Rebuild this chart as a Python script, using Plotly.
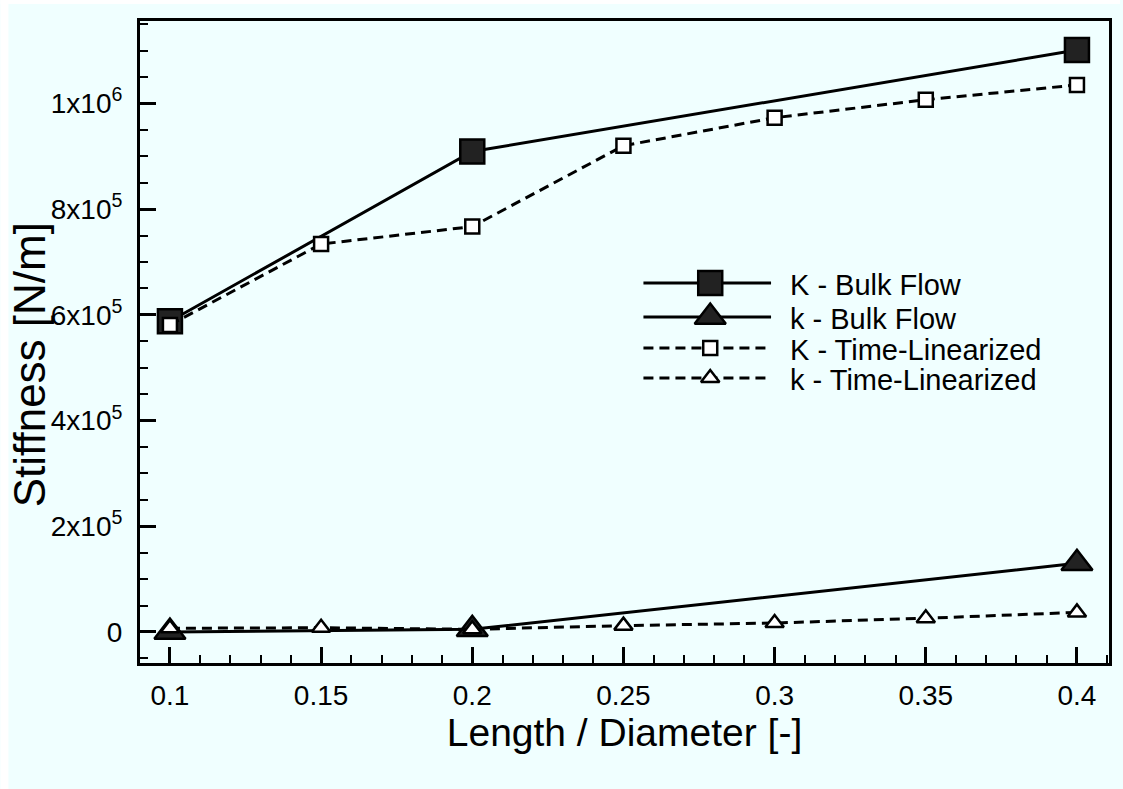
import plotly.graph_objects as go

# ---------------- data ----------------
x_bulk = [0.1, 0.2, 0.4]
K_bulk = [588e3, 909e3, 1101e3]
k_bulk = [0.0, 5e3, 130e3]

x_tl = [0.1, 0.15, 0.2, 0.25, 0.3, 0.35, 0.4]
K_tl = [581e3, 734e3, 767e3, 920e3, 973e3, 1007e3, 1035e3]
k_tl = [7e3, 8e3, 5e3, 12e3, 17e3, 26e3, 37e3]

x_tickvals = [0.1, 0.15, 0.2, 0.25, 0.3, 0.35, 0.4]
x_ticktext = ["0.1", "0.15", "0.2", "0.25", "0.3", "0.35", "0.4"]
y_tickvals = [0, 2e5, 4e5, 6e5, 8e5, 1e6]
y_ticktext = ["0", "2x10<sup>5</sup>", "4x10<sup>5</sup>", "6x10<sup>5</sup>",
              "8x10<sup>5</sup>", "1x10<sup>6</sup>"]

legend_names = ["K - Bulk Flow", "k - Bulk Flow", "K - Time-Linearized", "k - Time-Linearized"]

# ---------------- styles ----------------
FONT = "Liberation Sans, Arial, Helvetica, sans-serif"
BG = "#F0FFFF"
DARK = "#222222"
DASH = "10px,6px"
W, H = 1123, 789
L, R, T, B = 140, 11, 21, 126

styles = [
    dict(dash="solid", symbol="square", size=24, fill=DARK),
    dict(dash="solid", symbol="triangle-up", size=27, fill=DARK),
    dict(dash=DASH, symbol="square", size=14, fill="white"),
    dict(dash=DASH, symbol="triangle-up", size=16, fill="white"),
]
series = [(x_bulk, K_bulk), (x_bulk, k_bulk), (x_tl, K_tl), (x_tl, k_tl)]

fig = go.Figure()
for (xs, ys), st, name in zip(series, styles, legend_names):
    fig.add_trace(go.Scatter(
        x=xs, y=ys, mode="lines+markers", name=name, showlegend=False,
        line=dict(color="black", width=3, dash=st["dash"]),
        marker=dict(symbol=st["symbol"], size=st["size"], color=st["fill"],
                    line=dict(color="black", width=2.5)),
        cliponaxis=False,
    ))

# ---------------- custom legend (pixel layout on an overlay axis) ----------------
leg_x0, leg_x1, leg_xm, leg_tx = 645, 773, 712, 790
leg_rows = [283, 317, 348, 378]
for st, name, yy in zip(styles, legend_names, leg_rows):
    fig.add_trace(go.Scatter(
        x=[leg_x0, leg_x1], y=[yy, yy], mode="lines", xaxis="x2", yaxis="y2",
        showlegend=False, hoverinfo="skip",
        line=dict(color="black", width=3, dash=st["dash"]),
    ))
    fig.add_trace(go.Scatter(
        x=[leg_xm], y=[yy], mode="markers", xaxis="x2", yaxis="y2",
        showlegend=False, hoverinfo="skip",
        marker=dict(symbol=st["symbol"], size=st["size"], color=st["fill"],
                    line=dict(color="black", width=2.5)),
    ))
    fig.add_annotation(x=leg_tx, y=yy + 2, xref="x2", yref="y2", text=name,
                       showarrow=False, xanchor="left", yanchor="middle",
                       font=dict(family=FONT, size=29, color="black"))

axis_common = dict(
    showline=True, linecolor="black", linewidth=3, mirror=True,
    ticks="inside", tickcolor="black", showgrid=False, zeroline=False,
    tickfont=dict(family=FONT, size=28, color="black"),
)

fig.update_layout(
    width=W, height=H,
    margin=dict(l=L, r=R, t=T, b=B),
    paper_bgcolor=BG, plot_bgcolor=BG,
    showlegend=False,
    font=dict(family=FONT, color="black"),
    xaxis=dict(
        range=[0.0901, 0.4106], tickvals=x_tickvals, ticktext=x_ticktext,
        ticklen=16, tickwidth=3, ticklabelstandoff=5,
        minor=dict(ticks="inside", dtick=0.01, tick0=0.1, ticklen=8, tickwidth=2,
                   tickcolor="black", showgrid=False),
        title=dict(text="Length / Diameter [-]", font=dict(family=FONT, size=39),
                   standoff=10),
        **axis_common,
    ),
    yaxis=dict(
        range=[-58.7e3, 1.156e6], tickvals=y_tickvals, ticktext=y_ticktext,
        ticklen=16, tickwidth=3, ticklabelstandoff=9,
        minor=dict(ticks="inside", dtick=5e4, tick0=0, ticklen=8, tickwidth=2,
                   tickcolor="black", showgrid=False),
        **axis_common,
    ),
    xaxis2=dict(overlaying="x", range=[L, W - R], visible=False, anchor="y2"),
    yaxis2=dict(overlaying="y", range=[H - B, T], visible=False, anchor="x2"),
)

# y axis title as rotated annotation
fig.add_annotation(x=(29 - L) / (W - L - R), y=(H - B - 365) / (H - T - B),
                   xref="paper", yref="paper", text="Stiffness [N/m]", textangle=-90,
                   showarrow=False, xanchor="center", yanchor="middle",
                   font=dict(family=FONT, size=44, color="black"))

# white strips at the page's top and left edge
pw, ph = W - L - R, H - T - B
fig.add_shape(type="rect", xref="paper", yref="paper", layer="above",
              x0=-L / pw, x1=(W - L) / pw, y0=(H - B - 4) / ph, y1=(H - B) / ph,
              fillcolor="white", line=dict(width=0))
fig.add_shape(type="rect", xref="paper", yref="paper", layer="above",
              x0=-L / pw, x1=(8 - L) / pw, y0=-B / ph, y1=(H - B) / ph,
              fillcolor="white", line=dict(width=0))

fig.write_html("out.html")
